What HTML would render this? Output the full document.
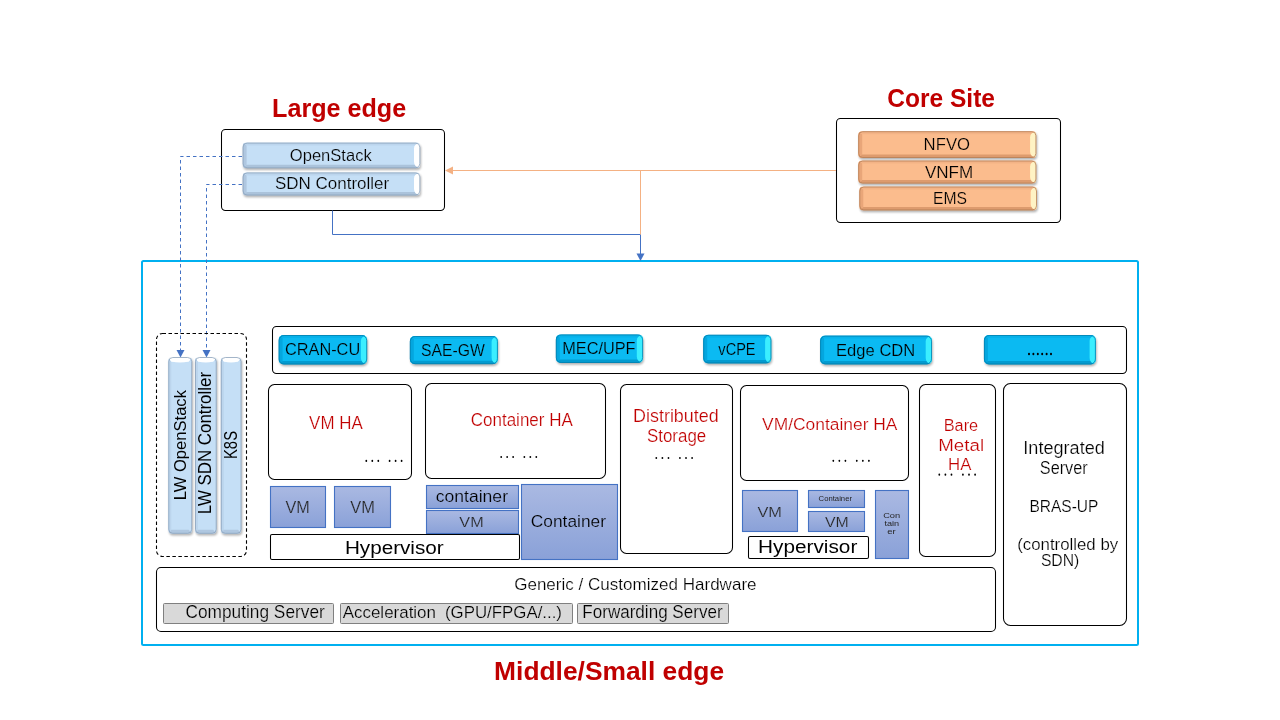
<!DOCTYPE html>
<html><head><meta charset="utf-8"><title>Edge architecture</title>
<style>html,body{margin:0;padding:0;background:#fff;width:1280px;height:720px;overflow:hidden}
svg{display:block;font-family:"Liberation Sans",sans-serif}</style></head>
<body><svg width="1280" height="720" viewBox="0 0 1280 720">
<defs>
<filter id="blur" x="-10%" y="-30%" width="120%" height="160%"><feGaussianBlur stdDeviation="1.2"/></filter>
<linearGradient id="lbbody" x1="0" y1="0" x2="0" y2="1"><stop offset="0" stop-color="#B7D3EE"/><stop offset="0.15" stop-color="#C6E0F7"/><stop offset="0.85" stop-color="#C6E0F7"/><stop offset="1" stop-color="#A9C3DC"/></linearGradient>
<linearGradient id="lbedge" x1="0" y1="0" x2="0" y2="1"><stop offset="0" stop-color="#98B0C8"/><stop offset="1" stop-color="#7F93A8"/></linearGradient>
<linearGradient id="lbhl" x1="0" y1="0" x2="1" y2="0"><stop offset="0" stop-color="#FFFFFF" stop-opacity="0.6"/><stop offset="1" stop-color="#FFFFFF"/></linearGradient>
<linearGradient id="lbvbody" x1="0" y1="0" x2="1" y2="0"><stop offset="0" stop-color="#A9C3DC"/><stop offset="0.18" stop-color="#C6E0F7"/><stop offset="0.82" stop-color="#C6E0F7"/><stop offset="1" stop-color="#A9C3DC"/></linearGradient>
<linearGradient id="orbody" x1="0" y1="0" x2="0" y2="1"><stop offset="0" stop-color="#F2AE80"/><stop offset="0.15" stop-color="#FABB8D"/><stop offset="0.85" stop-color="#FABB8D"/><stop offset="1" stop-color="#E8A374"/></linearGradient>
<linearGradient id="oredge" x1="0" y1="0" x2="0" y2="1"><stop offset="0" stop-color="#C98D62"/><stop offset="1" stop-color="#A87450"/></linearGradient>
<linearGradient id="orhl" x1="0" y1="0" x2="1" y2="0"><stop offset="0" stop-color="#FFF6D0" stop-opacity="0.6"/><stop offset="1" stop-color="#FFF8D8"/></linearGradient>
<linearGradient id="cybody" x1="0" y1="0" x2="0" y2="1"><stop offset="0" stop-color="#05A6DD"/><stop offset="0.15" stop-color="#0AB9F2"/><stop offset="0.85" stop-color="#0AB9F2"/><stop offset="1" stop-color="#0099CF"/></linearGradient>
<linearGradient id="cyedge" x1="0" y1="0" x2="0" y2="1"><stop offset="0" stop-color="#0490C4"/><stop offset="1" stop-color="#0378A8"/></linearGradient>
<linearGradient id="cyhl" x1="0" y1="0" x2="1" y2="0"><stop offset="0" stop-color="#40E0FF" stop-opacity="0.6"/><stop offset="1" stop-color="#3FF2FF"/></linearGradient>
<linearGradient id="vmgrad" x1="0" y1="0" x2="0" y2="1"><stop offset="0" stop-color="#AAB9E2"/><stop offset="1" stop-color="#8AA1D8"/></linearGradient>
</defs>
<rect width="1280" height="720" fill="#fff"/>
<rect x="142.00" y="261.00" width="996.00" height="384.00" rx="1.5" fill="none" stroke="#00B0F0" stroke-width="2"/>
<rect x="221.50" y="129.50" width="223.00" height="81.00" rx="4" fill="#fff" stroke="#000" stroke-width="1.05"/>
<rect x="836.50" y="118.50" width="224.00" height="104.00" rx="4" fill="#fff" stroke="#000" stroke-width="1.05"/>
<g fill="none" stroke-width="1">
<path d="M332.5,210.5 V234.5 H640.5 V254" stroke="#4472C4"/>
<path d="M640.5,234.5 V170.5" stroke="#F4B183"/>
<path d="M836,170.5 H451" stroke="#F4B183"/>
<path d="M242,156.5 H180.5 V350" stroke="#4472C4" stroke-dasharray="3.5,3"/>
<path d="M242,184.5 H206.5 V350" stroke="#4472C4" stroke-dasharray="3.5,3"/>
</g>
<path d="M636.5,253.5 L644.5,253.5 L640.5,261Z" fill="#4472C4"/>
<path d="M445,170.5 L453,166.5 L453,174.5Z" fill="#F4B183"/>
<path d="M176.5,350 L184.5,350 L180.5,357.5Z" fill="#4472C4"/>
<path d="M202.5,350 L210.5,350 L206.5,357.5Z" fill="#4472C4"/>
<clipPath id="bc1"><rect x="242.60" y="142.60" width="177.70" height="25.70" rx="4"/></clipPath>
<rect x="243.40" y="144.40" width="177.70" height="25.70" rx="4" fill="#000" opacity="0.30" filter="url(#blur)"/>
<g clip-path="url(#bc1)">
<rect x="242.60" y="142.60" width="177.70" height="25.70" fill="#C5DFF6"/>
<path d="M242.60,142.60 L246.60,145.60 L246.60,164.80 L242.60,168.30Z" fill="#AFC7E0"/>
<path d="M242.60,142.60 L420.30,142.60 L414.80,145.60 L246.60,145.60Z" fill="#BCD5ED"/>
<path d="M242.60,168.30 L246.60,164.80 L414.80,164.80 L420.30,168.30Z" fill="#ABC3DB"/>
<path d="M420.30,143.10 Q414.00,143.60 414.00,148.60 L414.00,161.80 Q414.00,167.30 420.30,167.80Z" fill="#FFFFFF"/>
</g>
<rect x="243.10" y="143.10" width="176.70" height="24.70" rx="4" fill="none" stroke="#8CA3BB" stroke-width="1" opacity="0.8"/>
<clipPath id="bc2"><rect x="242.60" y="172.40" width="177.70" height="23.10" rx="4"/></clipPath>
<rect x="243.40" y="174.20" width="177.70" height="23.10" rx="4" fill="#000" opacity="0.30" filter="url(#blur)"/>
<g clip-path="url(#bc2)">
<rect x="242.60" y="172.40" width="177.70" height="23.10" fill="#C5DFF6"/>
<path d="M242.60,172.40 L246.60,175.40 L246.60,192.00 L242.60,195.50Z" fill="#AFC7E0"/>
<path d="M242.60,172.40 L420.30,172.40 L414.80,175.40 L246.60,175.40Z" fill="#BCD5ED"/>
<path d="M242.60,195.50 L246.60,192.00 L414.80,192.00 L420.30,195.50Z" fill="#ABC3DB"/>
<path d="M420.30,172.90 Q414.00,173.40 414.00,178.40 L414.00,189.00 Q414.00,194.50 420.30,195.00Z" fill="#FFFFFF"/>
</g>
<rect x="243.10" y="172.90" width="176.70" height="22.10" rx="4" fill="none" stroke="#8CA3BB" stroke-width="1" opacity="0.8"/>
<clipPath id="bc3"><rect x="858.20" y="131.20" width="178.20" height="26.80" rx="4"/></clipPath>
<rect x="859.00" y="133.00" width="178.20" height="26.80" rx="4" fill="#000" opacity="0.30" filter="url(#blur)"/>
<g clip-path="url(#bc3)">
<rect x="858.20" y="131.20" width="178.20" height="26.80" fill="#FBBC8D"/>
<path d="M858.20,131.20 L862.20,134.20 L862.20,154.50 L858.20,158.00Z" fill="#E9A679"/>
<path d="M858.20,131.20 L1036.40,131.20 L1030.90,134.20 L862.20,134.20Z" fill="#F3B386"/>
<path d="M858.20,158.00 L862.20,154.50 L1030.90,154.50 L1036.40,158.00Z" fill="#DD9B6E"/>
<path d="M1036.40,131.70 Q1030.10,132.20 1030.10,137.20 L1030.10,151.50 Q1030.10,157.00 1036.40,157.50Z" fill="#FFF3C4"/>
</g>
<rect x="858.70" y="131.70" width="177.20" height="25.80" rx="4" fill="none" stroke="#B58058" stroke-width="1" opacity="0.8"/>
<clipPath id="bc4"><rect x="858.20" y="160.50" width="178.20" height="23.10" rx="4"/></clipPath>
<rect x="859.00" y="162.30" width="178.20" height="23.10" rx="4" fill="#000" opacity="0.30" filter="url(#blur)"/>
<g clip-path="url(#bc4)">
<rect x="858.20" y="160.50" width="178.20" height="23.10" fill="#FBBC8D"/>
<path d="M858.20,160.50 L862.20,163.50 L862.20,180.10 L858.20,183.60Z" fill="#E9A679"/>
<path d="M858.20,160.50 L1036.40,160.50 L1030.90,163.50 L862.20,163.50Z" fill="#F3B386"/>
<path d="M858.20,183.60 L862.20,180.10 L1030.90,180.10 L1036.40,183.60Z" fill="#DD9B6E"/>
<path d="M1036.40,161.00 Q1030.10,161.50 1030.10,166.50 L1030.10,177.10 Q1030.10,182.60 1036.40,183.10Z" fill="#FFF3C4"/>
</g>
<rect x="858.70" y="161.00" width="177.20" height="22.10" rx="4" fill="none" stroke="#B58058" stroke-width="1" opacity="0.8"/>
<clipPath id="bc5"><rect x="859.30" y="186.50" width="177.70" height="23.90" rx="4"/></clipPath>
<rect x="860.10" y="188.30" width="177.70" height="23.90" rx="4" fill="#000" opacity="0.30" filter="url(#blur)"/>
<g clip-path="url(#bc5)">
<rect x="859.30" y="186.50" width="177.70" height="23.90" fill="#FBBC8D"/>
<path d="M859.30,186.50 L863.30,189.50 L863.30,206.90 L859.30,210.40Z" fill="#E9A679"/>
<path d="M859.30,186.50 L1037.00,186.50 L1031.50,189.50 L863.30,189.50Z" fill="#F3B386"/>
<path d="M859.30,210.40 L863.30,206.90 L1031.50,206.90 L1037.00,210.40Z" fill="#DD9B6E"/>
<path d="M1037.00,187.00 Q1030.70,187.50 1030.70,192.50 L1030.70,203.90 Q1030.70,209.40 1037.00,209.90Z" fill="#FFF3C4"/>
</g>
<rect x="859.80" y="187.00" width="176.70" height="22.90" rx="4" fill="none" stroke="#B58058" stroke-width="1" opacity="0.8"/>
<rect x="156.50" y="333.50" width="90.00" height="223.00" rx="6" fill="none" stroke="#000" stroke-width="1.1" stroke-dasharray="3.5,2.5"/>
<clipPath id="bc6"><rect x="168.30" y="357.00" width="23.90" height="176.80" rx="4"/></clipPath>
<rect x="169.10" y="358.80" width="23.90" height="176.80" rx="4" fill="#000" opacity="0.30" filter="url(#blur)"/>
<g clip-path="url(#bc6)">
<rect x="168.30" y="357.00" width="23.90" height="176.80" fill="#C5DFF6"/>
<path d="M168.30,357.00 L171.30,361.50 L171.30,529.80 L168.30,533.80Z" fill="#BCD5ED"/>
<path d="M168.30,357.00 L192.20,357.00 L188.70,361.50 L171.30,361.50Z" fill="#FFFFFF"/>
<path d="M168.30,533.80 L171.30,529.80 L188.70,529.80 L192.20,533.80Z" fill="#AFC7E0"/>
<path d="M168.30,357.00 L171.30,361.50 Q180.25,363.70 188.70,361.50 L192.20,357.00Z" fill="#FFFFFF"/>
</g>
<rect x="168.80" y="357.50" width="22.90" height="175.80" rx="4" fill="none" stroke="#8CA3BB" stroke-width="1" opacity="0.8"/>
<clipPath id="bc7"><rect x="195.00" y="357.00" width="21.70" height="176.80" rx="4"/></clipPath>
<rect x="195.80" y="358.80" width="21.70" height="176.80" rx="4" fill="#000" opacity="0.30" filter="url(#blur)"/>
<g clip-path="url(#bc7)">
<rect x="195.00" y="357.00" width="21.70" height="176.80" fill="#C5DFF6"/>
<path d="M195.00,357.00 L198.00,361.50 L198.00,529.80 L195.00,533.80Z" fill="#BCD5ED"/>
<path d="M195.00,357.00 L216.70,357.00 L213.20,361.50 L198.00,361.50Z" fill="#FFFFFF"/>
<path d="M195.00,533.80 L198.00,529.80 L213.20,529.80 L216.70,533.80Z" fill="#AFC7E0"/>
<path d="M195.00,357.00 L198.00,361.50 Q205.85,363.70 213.20,361.50 L216.70,357.00Z" fill="#FFFFFF"/>
</g>
<rect x="195.50" y="357.50" width="20.70" height="175.80" rx="4" fill="none" stroke="#8CA3BB" stroke-width="1" opacity="0.8"/>
<clipPath id="bc8"><rect x="220.80" y="357.00" width="20.70" height="176.80" rx="4"/></clipPath>
<rect x="221.60" y="358.80" width="20.70" height="176.80" rx="4" fill="#000" opacity="0.30" filter="url(#blur)"/>
<g clip-path="url(#bc8)">
<rect x="220.80" y="357.00" width="20.70" height="176.80" fill="#C5DFF6"/>
<path d="M220.80,357.00 L223.80,361.50 L223.80,529.80 L220.80,533.80Z" fill="#BCD5ED"/>
<path d="M220.80,357.00 L241.50,357.00 L238.00,361.50 L223.80,361.50Z" fill="#FFFFFF"/>
<path d="M220.80,533.80 L223.80,529.80 L238.00,529.80 L241.50,533.80Z" fill="#AFC7E0"/>
<path d="M220.80,357.00 L223.80,361.50 Q231.15,363.70 238.00,361.50 L241.50,357.00Z" fill="#FFFFFF"/>
</g>
<rect x="221.30" y="357.50" width="19.70" height="175.80" rx="4" fill="none" stroke="#8CA3BB" stroke-width="1" opacity="0.8"/>
<rect x="272.50" y="326.50" width="854.00" height="47.00" rx="4" fill="#fff" stroke="#000" stroke-width="1.05"/>
<clipPath id="bc9"><rect x="278.60" y="335.00" width="88.60" height="29.50" rx="5"/></clipPath>
<rect x="279.40" y="336.80" width="88.60" height="29.50" rx="5" fill="#000" opacity="0.30" filter="url(#blur)"/>
<g clip-path="url(#bc9)">
<rect x="278.60" y="335.00" width="88.60" height="29.50" fill="#0BBAF2"/>
<path d="M278.60,335.00 L282.60,338.00 L282.60,361.00 L278.60,364.50Z" fill="#04A6DE"/>
<path d="M278.60,335.00 L367.20,335.00 L361.70,338.00 L282.60,338.00Z" fill="#07B2EA"/>
<path d="M278.60,364.50 L282.60,361.00 L361.70,361.00 L367.20,364.50Z" fill="#039BD0"/>
<path d="M367.20,335.50 Q360.90,336.00 360.90,341.00 L360.90,358.00 Q360.90,363.50 367.20,364.00Z" fill="#3BEEFF"/>
</g>
<rect x="279.10" y="335.50" width="87.60" height="28.50" rx="5" fill="none" stroke="#047FAE" stroke-width="1" opacity="0.8"/>
<clipPath id="bc10"><rect x="409.80" y="336.00" width="88.10" height="28.20" rx="5"/></clipPath>
<rect x="410.60" y="337.80" width="88.10" height="28.20" rx="5" fill="#000" opacity="0.30" filter="url(#blur)"/>
<g clip-path="url(#bc10)">
<rect x="409.80" y="336.00" width="88.10" height="28.20" fill="#0BBAF2"/>
<path d="M409.80,336.00 L413.80,339.00 L413.80,360.70 L409.80,364.20Z" fill="#04A6DE"/>
<path d="M409.80,336.00 L497.90,336.00 L492.40,339.00 L413.80,339.00Z" fill="#07B2EA"/>
<path d="M409.80,364.20 L413.80,360.70 L492.40,360.70 L497.90,364.20Z" fill="#039BD0"/>
<path d="M497.90,336.50 Q491.60,337.00 491.60,342.00 L491.60,357.70 Q491.60,363.20 497.90,363.70Z" fill="#3BEEFF"/>
</g>
<rect x="410.30" y="336.50" width="87.10" height="27.20" rx="5" fill="none" stroke="#047FAE" stroke-width="1" opacity="0.8"/>
<clipPath id="bc11"><rect x="555.80" y="334.40" width="87.30" height="28.60" rx="5"/></clipPath>
<rect x="556.60" y="336.20" width="87.30" height="28.60" rx="5" fill="#000" opacity="0.30" filter="url(#blur)"/>
<g clip-path="url(#bc11)">
<rect x="555.80" y="334.40" width="87.30" height="28.60" fill="#0BBAF2"/>
<path d="M555.80,334.40 L559.80,337.40 L559.80,359.50 L555.80,363.00Z" fill="#04A6DE"/>
<path d="M555.80,334.40 L643.10,334.40 L637.60,337.40 L559.80,337.40Z" fill="#07B2EA"/>
<path d="M555.80,363.00 L559.80,359.50 L637.60,359.50 L643.10,363.00Z" fill="#039BD0"/>
<path d="M643.10,334.90 Q636.80,335.40 636.80,340.40 L636.80,356.50 Q636.80,362.00 643.10,362.50Z" fill="#3BEEFF"/>
</g>
<rect x="556.30" y="334.90" width="86.30" height="27.60" rx="5" fill="none" stroke="#047FAE" stroke-width="1" opacity="0.8"/>
<clipPath id="bc12"><rect x="703.20" y="334.70" width="68.20" height="28.70" rx="5"/></clipPath>
<rect x="704.00" y="336.50" width="68.20" height="28.70" rx="5" fill="#000" opacity="0.30" filter="url(#blur)"/>
<g clip-path="url(#bc12)">
<rect x="703.20" y="334.70" width="68.20" height="28.70" fill="#0BBAF2"/>
<path d="M703.20,334.70 L707.20,337.70 L707.20,359.90 L703.20,363.40Z" fill="#04A6DE"/>
<path d="M703.20,334.70 L771.40,334.70 L765.90,337.70 L707.20,337.70Z" fill="#07B2EA"/>
<path d="M703.20,363.40 L707.20,359.90 L765.90,359.90 L771.40,363.40Z" fill="#039BD0"/>
<path d="M771.40,335.20 Q765.10,335.70 765.10,340.70 L765.10,356.90 Q765.10,362.40 771.40,362.90Z" fill="#3BEEFF"/>
</g>
<rect x="703.70" y="335.20" width="67.20" height="27.70" rx="5" fill="none" stroke="#047FAE" stroke-width="1" opacity="0.8"/>
<clipPath id="bc13"><rect x="820.10" y="335.60" width="111.90" height="28.80" rx="5"/></clipPath>
<rect x="820.90" y="337.40" width="111.90" height="28.80" rx="5" fill="#000" opacity="0.30" filter="url(#blur)"/>
<g clip-path="url(#bc13)">
<rect x="820.10" y="335.60" width="111.90" height="28.80" fill="#0BBAF2"/>
<path d="M820.10,335.60 L824.10,338.60 L824.10,360.90 L820.10,364.40Z" fill="#04A6DE"/>
<path d="M820.10,335.60 L932.00,335.60 L926.50,338.60 L824.10,338.60Z" fill="#07B2EA"/>
<path d="M820.10,364.40 L824.10,360.90 L926.50,360.90 L932.00,364.40Z" fill="#039BD0"/>
<path d="M932.00,336.10 Q925.70,336.60 925.70,341.60 L925.70,357.90 Q925.70,363.40 932.00,363.90Z" fill="#3BEEFF"/>
</g>
<rect x="820.60" y="336.10" width="110.90" height="27.80" rx="5" fill="none" stroke="#047FAE" stroke-width="1" opacity="0.8"/>
<clipPath id="bc14"><rect x="983.90" y="335.00" width="112.00" height="29.50" rx="5"/></clipPath>
<rect x="984.70" y="336.80" width="112.00" height="29.50" rx="5" fill="#000" opacity="0.30" filter="url(#blur)"/>
<g clip-path="url(#bc14)">
<rect x="983.90" y="335.00" width="112.00" height="29.50" fill="#0BBAF2"/>
<path d="M983.90,335.00 L987.90,338.00 L987.90,361.00 L983.90,364.50Z" fill="#04A6DE"/>
<path d="M983.90,335.00 L1095.90,335.00 L1090.40,338.00 L987.90,338.00Z" fill="#07B2EA"/>
<path d="M983.90,364.50 L987.90,361.00 L1090.40,361.00 L1095.90,364.50Z" fill="#039BD0"/>
<path d="M1095.90,335.50 Q1089.60,336.00 1089.60,341.00 L1089.60,358.00 Q1089.60,363.50 1095.90,364.00Z" fill="#3BEEFF"/>
</g>
<rect x="984.40" y="335.50" width="111.00" height="28.50" rx="5" fill="none" stroke="#047FAE" stroke-width="1" opacity="0.8"/>
<rect x="268.50" y="384.50" width="143.00" height="95.00" rx="6" fill="#fff" stroke="#000" stroke-width="1.05"/>
<rect x="425.50" y="383.50" width="180.00" height="95.00" rx="6" fill="#fff" stroke="#000" stroke-width="1.05"/>
<rect x="620.50" y="384.50" width="112.00" height="169.00" rx="6" fill="#fff" stroke="#000" stroke-width="1.05"/>
<rect x="740.50" y="385.50" width="168.00" height="95.00" rx="6" fill="#fff" stroke="#000" stroke-width="1.05"/>
<rect x="919.50" y="384.50" width="76.00" height="172.00" rx="6" fill="#fff" stroke="#000" stroke-width="1.05"/>
<rect x="1003.50" y="383.50" width="123.00" height="242.00" rx="7" fill="#fff" stroke="#000" stroke-width="1.05"/>
<rect x="270.5" y="486.5" width="55" height="41" fill="url(#vmgrad)" stroke="#4472C4" stroke-width="1.1"/>
<rect x="334.5" y="486.5" width="56" height="41" fill="url(#vmgrad)" stroke="#4472C4" stroke-width="1.1"/>
<rect x="426.5" y="485.5" width="92" height="23" fill="url(#vmgrad)" stroke="#4472C4" stroke-width="1.1"/>
<rect x="426.5" y="510.5" width="92" height="23" fill="url(#vmgrad)" stroke="#4472C4" stroke-width="1.1"/>
<rect x="521.5" y="484.5" width="96" height="75" fill="url(#vmgrad)" stroke="#4472C4" stroke-width="1.1"/>
<rect x="742.5" y="490.5" width="55" height="41" fill="url(#vmgrad)" stroke="#4472C4" stroke-width="1.1"/>
<rect x="808.5" y="490.5" width="56" height="17" fill="url(#vmgrad)" stroke="#4472C4" stroke-width="1.1"/>
<rect x="808.5" y="511.5" width="56" height="20" fill="url(#vmgrad)" stroke="#4472C4" stroke-width="1.1"/>
<rect x="875.5" y="490.5" width="33" height="68" fill="url(#vmgrad)" stroke="#4472C4" stroke-width="1.1"/>
<rect x="270.50" y="534.50" width="249.00" height="25.00" rx="1.5" fill="#fff" stroke="#000" stroke-width="1.05"/>
<rect x="748.50" y="536.50" width="120.00" height="22.00" rx="1.5" fill="#fff" stroke="#000" stroke-width="1.05"/>
<rect x="156.50" y="567.50" width="839.00" height="64.00" rx="4.5" fill="#fff" stroke="#000" stroke-width="1.05"/>
<rect x="163.5" y="603.5" width="170" height="20" rx="1" fill="#D9D9D9" stroke="#808080" stroke-width="1"/>
<rect x="340.5" y="603.5" width="232" height="20" rx="1" fill="#D9D9D9" stroke="#808080" stroke-width="1"/>
<rect x="577.5" y="603.5" width="151" height="20" rx="1" fill="#D9D9D9" stroke="#808080" stroke-width="1"/>
<g style="will-change:transform">
<text transform="translate(272.05,116.90) scale(0.9559,1)" font-size="26.31" fill="#C00000" font-weight="bold">Large edge</text>
<text transform="translate(887.27,107.00) scale(0.9328,1)" font-size="26.31" fill="#C00000" font-weight="bold">Core Site</text>
<text transform="translate(494.12,679.60) scale(0.9915,1)" font-size="26.60" fill="#C00000" font-weight="bold">Middle/Small edge</text>
<text transform="translate(289.81,160.80) scale(0.9914,1)" font-size="16.72" fill="#000" stroke="#C5DFF6" stroke-width="0.220">OpenStack</text>
<text transform="translate(275.04,188.90) scale(1.0350,1)" font-size="16.42" fill="#000" stroke="#C5DFF6" stroke-width="0.220">SDN Controller</text>
<text transform="translate(923.62,150.00) scale(0.9652,1)" font-size="17.30" fill="#000" stroke="#FBBC8D" stroke-width="0.220">NFVO</text>
<text transform="translate(924.91,177.90) scale(0.9857,1)" font-size="17.30" fill="#000" stroke="#FBBC8D" stroke-width="0.220">VNFM</text>
<text transform="translate(932.90,203.90) scale(0.9333,1)" font-size="16.86" fill="#000" stroke="#FBBC8D" stroke-width="0.220">EMS</text>
<text transform="translate(186.10,500.27) rotate(-90) scale(0.9751,1)" font-size="17.01" fill="#000">LW OpenStack</text>
<text transform="translate(211.10,514.19) rotate(-90) scale(0.9677,1)" font-size="17.44" fill="#000">LW SDN Controller</text>
<text transform="translate(237.20,459.03) rotate(-90) scale(0.8523,1)" font-size="17.44" fill="#000">K8S</text>
<text transform="translate(284.98,354.90) scale(0.9436,1)" font-size="17.30" fill="#000" stroke="#0BBAF2" stroke-width="0.220">CRAN-CU</text>
<text transform="translate(420.99,355.70) scale(0.9420,1)" font-size="16.72" fill="#000" stroke="#0BBAF2" stroke-width="0.220">SAE-GW</text>
<text transform="translate(562.15,353.60) scale(0.9857,1)" font-size="16.57" fill="#000" stroke="#0BBAF2" stroke-width="0.220">MEC/UPF</text>
<text transform="translate(718.36,354.80) scale(0.8715,1)" font-size="16.72" fill="#000" stroke="#0BBAF2" stroke-width="0.220">vCPE</text>
<text transform="translate(836.03,355.60) scale(1.0288,1)" font-size="16.13" fill="#000" stroke="#0BBAF2" stroke-width="0.220">Edge CDN</text>
<ellipse cx="1029.00" cy="354.00" rx="1.00" ry="1.20" fill="#000"/>
<ellipse cx="1033.40" cy="354.00" rx="1.00" ry="1.20" fill="#000"/>
<ellipse cx="1037.80" cy="354.00" rx="1.00" ry="1.20" fill="#000"/>
<ellipse cx="1042.20" cy="354.00" rx="1.00" ry="1.20" fill="#000"/>
<ellipse cx="1046.60" cy="354.00" rx="1.00" ry="1.20" fill="#000"/>
<ellipse cx="1051.00" cy="354.00" rx="1.00" ry="1.20" fill="#000"/>
<text transform="translate(309.12,428.90) scale(0.9707,1)" font-size="17.44" fill="#C00000" stroke="#fff" stroke-width="0.220">VM HA</text>
<text transform="translate(470.75,425.90) scale(0.9751,1)" font-size="17.44" fill="#C00000" stroke="#fff" stroke-width="0.220">Container HA</text>
<text transform="translate(633.02,422.00) scale(1.0123,1)" font-size="17.73" fill="#C00000" stroke="#fff" stroke-width="0.220">Distributed</text>
<text transform="translate(646.94,441.50) scale(0.9545,1)" font-size="17.73" fill="#C00000" stroke="#fff" stroke-width="0.220">Storage</text>
<text transform="translate(762.11,429.90) scale(1.0321,1)" font-size="16.86" fill="#C00000" stroke="#fff" stroke-width="0.220">VM/Container HA</text>
<text transform="translate(943.65,431.00) scale(0.9711,1)" font-size="16.86" fill="#C00000" stroke="#fff" stroke-width="0.220">Bare</text>
<text transform="translate(938.25,450.70) scale(1.1113,1)" font-size="16.86" fill="#C00000" stroke="#fff" stroke-width="0.220">Metal</text>
<text transform="translate(948.12,470.00) scale(0.9953,1)" font-size="16.86" fill="#C00000" stroke="#fff" stroke-width="0.220">HA</text>
<ellipse cx="366.30" cy="460.90" rx="0.90" ry="1.08" fill="#000"/>
<ellipse cx="372.30" cy="460.90" rx="0.90" ry="1.08" fill="#000"/>
<ellipse cx="378.31" cy="460.90" rx="0.90" ry="1.08" fill="#000"/>
<ellipse cx="389.59" cy="460.90" rx="0.90" ry="1.08" fill="#000"/>
<ellipse cx="395.60" cy="460.90" rx="0.90" ry="1.08" fill="#000"/>
<ellipse cx="401.60" cy="460.90" rx="0.90" ry="1.08" fill="#000"/>
<ellipse cx="501.20" cy="457.00" rx="0.90" ry="1.08" fill="#000"/>
<ellipse cx="507.17" cy="457.00" rx="0.90" ry="1.08" fill="#000"/>
<ellipse cx="513.14" cy="457.00" rx="0.90" ry="1.08" fill="#000"/>
<ellipse cx="524.36" cy="457.00" rx="0.90" ry="1.08" fill="#000"/>
<ellipse cx="530.33" cy="457.00" rx="0.90" ry="1.08" fill="#000"/>
<ellipse cx="536.30" cy="457.00" rx="0.90" ry="1.08" fill="#000"/>
<ellipse cx="656.30" cy="458.00" rx="0.90" ry="1.08" fill="#000"/>
<ellipse cx="662.39" cy="458.00" rx="0.90" ry="1.08" fill="#000"/>
<ellipse cx="668.48" cy="458.00" rx="0.90" ry="1.08" fill="#000"/>
<ellipse cx="679.92" cy="458.00" rx="0.90" ry="1.08" fill="#000"/>
<ellipse cx="686.01" cy="458.00" rx="0.90" ry="1.08" fill="#000"/>
<ellipse cx="692.10" cy="458.00" rx="0.90" ry="1.08" fill="#000"/>
<ellipse cx="833.30" cy="460.80" rx="0.90" ry="1.08" fill="#000"/>
<ellipse cx="839.35" cy="460.80" rx="0.90" ry="1.08" fill="#000"/>
<ellipse cx="845.41" cy="460.80" rx="0.90" ry="1.08" fill="#000"/>
<ellipse cx="856.79" cy="460.80" rx="0.90" ry="1.08" fill="#000"/>
<ellipse cx="862.85" cy="460.80" rx="0.90" ry="1.08" fill="#000"/>
<ellipse cx="868.90" cy="460.80" rx="0.90" ry="1.08" fill="#000"/>
<ellipse cx="939.30" cy="474.70" rx="0.90" ry="1.08" fill="#000"/>
<ellipse cx="945.39" cy="474.70" rx="0.90" ry="1.08" fill="#000"/>
<ellipse cx="951.48" cy="474.70" rx="0.90" ry="1.08" fill="#000"/>
<ellipse cx="962.92" cy="474.70" rx="0.90" ry="1.08" fill="#000"/>
<ellipse cx="969.01" cy="474.70" rx="0.90" ry="1.08" fill="#000"/>
<ellipse cx="975.10" cy="474.70" rx="0.90" ry="1.08" fill="#000"/>
<text transform="translate(285.52,513.10) scale(1.0233,1)" font-size="15.84" fill="#262626" stroke="#9AADDD" stroke-width="0.220">VM</text>
<text transform="translate(350.22,513.10) scale(1.0367,1)" font-size="15.84" fill="#262626" stroke="#9AADDD" stroke-width="0.220">VM</text>
<text transform="translate(435.65,501.70) scale(1.0816,1)" font-size="16.28" fill="#000" stroke="#9AADDD" stroke-width="0.220">container</text>
<text transform="translate(459.32,526.70) scale(1.0424,1)" font-size="15.55" fill="#262626" stroke="#9AADDD" stroke-width="0.220">VM</text>
<text transform="translate(530.73,527.00) scale(1.0118,1)" font-size="17.15" fill="#000" stroke="#9AADDD" stroke-width="0.220">Container</text>
<text transform="translate(344.89,553.70) scale(1.0781,1)" font-size="19.19" fill="#000">Hypervisor</text>
<text transform="translate(758.09,553.40) scale(1.0992,1)" font-size="18.90" fill="#000">Hypervisor</text>
<text transform="translate(757.42,516.70) scale(1.0716,1)" font-size="15.26" fill="#262626" stroke="#9AADDD" stroke-width="0.220">VM</text>
<text transform="translate(818.61,501.10) scale(0.9817,1)" font-size="7.85" fill="#262626">Container</text>
<text transform="translate(824.92,527.40) scale(1.0593,1)" font-size="14.97" fill="#262626" stroke="#9AADDD" stroke-width="0.220">VM</text>
<text transform="translate(883.13,518.20) scale(1.2308,1)" font-size="7.56" fill="#262626">Con</text>
<text transform="translate(884.46,526.00) scale(1.2087,1)" font-size="7.56" fill="#262626">tain</text>
<text transform="translate(887.19,533.60) scale(1.2753,1)" font-size="7.56" fill="#262626">er</text>
<text transform="translate(514.15,589.60) scale(1.0473,1)" font-size="16.28" fill="#000" stroke="#fff" stroke-width="0.220">Generic / Customized Hardware</text>
<text transform="translate(185.44,617.90) scale(0.9918,1)" font-size="17.44" fill="#000" stroke="#D9D9D9" stroke-width="0.220">Computing Server</text>
<text transform="translate(342.66,617.70) scale(0.9897,1)" font-size="17.15" fill="#000" stroke="#D9D9D9" stroke-width="0.220">Acceleration</text>
<text transform="translate(444.95,617.70) scale(0.9828,1)" font-size="17.15" fill="#000" stroke="#D9D9D9" stroke-width="0.220">(GPU/FPGA/...)</text>
<text transform="translate(582.29,617.90) scale(0.9784,1)" font-size="17.44" fill="#000" stroke="#D9D9D9" stroke-width="0.220">Forwarding Server</text>
<text transform="translate(1023.33,454.40) scale(1.0209,1)" font-size="17.73" fill="#000" stroke="#fff" stroke-width="0.220">Integrated</text>
<text transform="translate(1039.77,474.30) scale(0.9187,1)" font-size="17.73" fill="#000" stroke="#fff" stroke-width="0.220">Server</text>
<text transform="translate(1029.52,512.20) scale(0.9037,1)" font-size="17.15" fill="#000" stroke="#fff" stroke-width="0.220">BRAS-UP</text>
<text transform="translate(1017.15,550.00) scale(0.9820,1)" font-size="17.15" fill="#000" stroke="#fff" stroke-width="0.220">(controlled by</text>
<text transform="translate(1040.89,566.30) scale(0.9169,1)" font-size="17.15" fill="#000" stroke="#fff" stroke-width="0.220">SDN)</text>
</g>
</svg></body></html>
